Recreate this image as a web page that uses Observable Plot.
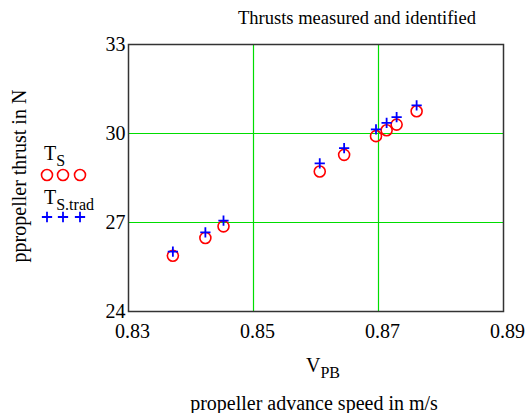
<!DOCTYPE html>
<html><head><meta charset="utf-8">
<script src="https://cdn.jsdelivr.net/npm/d3@7"></script>
<script src="https://cdn.jsdelivr.net/npm/@observablehq/plot@0.6"></script>
<style>body{margin:0;background:#fff}svg{display:block}</style>
</head><body><div id="chart"></div>
<script>
const vPB = [0.8371, 0.8423, 0.8452, 0.8606, 0.8645, 0.8696, 0.8713, 0.8729, 0.8761];
const tS = [25.88, 26.48, 26.87, 28.72, 29.28, 29.91, 30.11, 30.30, 30.75];
const tSTrad = [26.02, 26.67, 27.06, 28.99, 29.51, 30.14, 30.36, 30.55, 30.95];
const xTicks = [0.83, 0.85, 0.87, 0.89];
const yTicks = [24, 27, 30, 33];

const measured = vPB.map((v, i) => ({v, t: tS[i]}));
const trad = vPB.map((v, i) => ({v, t: tSTrad[i]}));
const font = "'Liberation Serif', 'Times New Roman', serif";
const plusR = 3.4;

const plot = Plot.plot({
  width: 527, height: 413,
  marginLeft: 128, marginRight: 24, marginTop: 44, marginBottom: 102,
  style: {fontFamily: font, fontSize: "20px", color: "#000", background: "#fff"},
  x: {domain: [0.83, 0.89], label: null},
  y: {domain: [24, 33], label: null},
  marks: [
    Plot.ruleX(xTicks.slice(1, -1), {stroke: "#00dd00", strokeWidth: 1.2}),
    Plot.ruleY(yTicks.slice(1, -1), {stroke: "#00dd00", strokeWidth: 1.2}),
    Plot.frame({stroke: "#333", strokeWidth: 1.5}),
    Plot.dot(measured, {x: "v", y: "t", r: 5.5, stroke: "#ff0000", strokeWidth: 1.6, fill: "none"}),
    Plot.dot(trad, {x: "v", y: "t", symbol: "plus", r: plusR, stroke: "#0000ff", strokeWidth: 1.8}),
    Plot.axisX({ticks: xTicks, tickFormat: d3.format(".2f"), tickSize: 0, tickPadding: 12, label: null, fontSize: 20, dx: 4}),
    Plot.axisY({ticks: yTicks, tickSize: 0, tickPadding: 3, label: null, fontSize: 20})
  ]
});
document.getElementById("chart").appendChild(plot);

const svg = d3.select(plot);
const T = (x, y, size, anchor = "start") => svg.append("text").attr("x", x).attr("y", y)
  .attr("font-family", font).attr("font-size", size).attr("fill", "#000")
  .attr("text-anchor", anchor);

T(357, 24, 18.5, "middle").text("Thrusts measured and identified");
const vl = T(306, 372, 20);
vl.append("tspan").text("V");
vl.append("tspan").attr("dy", 6).attr("font-size", 16).text("PB");
T(314, 410, 20, "middle").text("propeller advance speed in m/s");
T(0, 0, 20, "middle").attr("transform", "translate(26,176) rotate(-90)")
  .text("ppropeller thrust in N");

const l1 = T(44, 160, 20);
l1.append("tspan").text("T");
l1.append("tspan").attr("dy", 6).attr("font-size", 16).text("S");
const l2 = T(44, 204, 20);
l2.append("tspan").text("T");
l2.append("tspan").attr("dy", 6).attr("font-size", 16).text("S.trad");

[47, 63, 80].forEach(x => {
  svg.append("circle").attr("cx", x).attr("cy", 175).attr("r", 5.5)
    .attr("fill", "none").attr("stroke", "#ff0000").attr("stroke-width", 1.6);
  svg.append("path").attr("transform", `translate(${x},217)`)
    .attr("d", d3.symbol(d3.symbolPlus, Math.PI * plusR * plusR)())
    .attr("fill", "none").attr("stroke", "#0000ff").attr("stroke-width", 1.8);
});
</script></body></html>
